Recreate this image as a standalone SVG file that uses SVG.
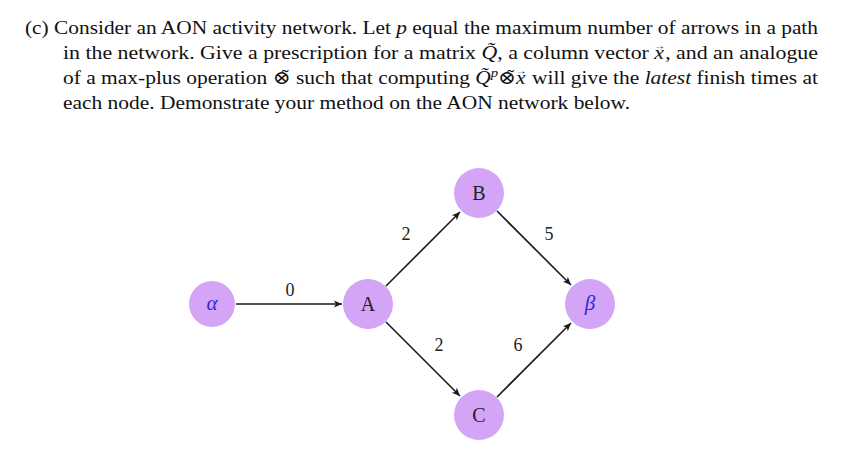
<svg xmlns="http://www.w3.org/2000/svg" width="866" height="458" viewBox="0 0 866 458">
<style>
.t{font-family:"Liberation Serif","DejaVu Serif",serif;font-size:19px;fill:#111}
.n{fill:#d4a5f7}
.nl{font-family:"Liberation Serif",serif;font-size:20px;fill:#222;text-anchor:middle}
.g{font-family:"Liberation Serif",serif;font-style:italic;font-size:21px;fill:#2a2ad0;text-anchor:middle}
.el{font-family:"Liberation Serif",serif;font-size:18px;fill:#222;text-anchor:middle}
.e{stroke:#1a1a1a;stroke-width:1.6;fill:none;marker-end:url(#ah)}
</style>
<defs>
<marker id="ah" markerWidth="10" markerHeight="10" refX="9" refY="5" orient="auto" markerUnits="userSpaceOnUse">
<path d="M1,1.5 L9,5 L1,8.5 L3,5 Z" fill="#1a1a1a"/>
</marker>
</defs>
<rect width="866" height="458" fill="#fff"/>
<g id="text">
<text class="t" x="25" y="34" textLength="793" lengthAdjust="spacingAndGlyphs">(c) Consider an AON activity network. Let <tspan font-style="italic">p</tspan> equal the maximum number of arrows in a path</text>
<text class="t" x="63" y="59" textLength="755" lengthAdjust="spacingAndGlyphs">in the network. Give a prescription for a matrix <tspan font-style="italic">Q̃</tspan>, a column vector <tspan font-style="italic">x</tspan><tspan font-size="10" dx="-9" dy="-10">→</tspan><tspan dy="10">, and an analogue</tspan></text>
<text class="t" x="63" y="84" textLength="755" lengthAdjust="spacingAndGlyphs">of a max-plus operation ⊗̃ such that computing <tspan font-style="italic">Q̃</tspan><tspan font-style="italic" font-size="13" dy="-7">p</tspan><tspan dy="7">⊗̃</tspan><tspan font-style="italic">x</tspan><tspan font-size="10" dx="-9" dy="-10">→</tspan><tspan dy="10"> will give the </tspan><tspan font-style="italic">latest</tspan> finish times at</text>
<text class="t" x="63" y="109" textLength="567" lengthAdjust="spacingAndGlyphs">each node. Demonstrate your method on the AON network below.</text>
</g>
<g id="connectors">
<line class="e" x1="236" y1="304" x2="342" y2="304"/>
<line class="e" x1="386" y1="286" x2="460" y2="212"/>
<line class="e" x1="497" y1="211" x2="571" y2="285"/>
<line class="e" x1="386" y1="322" x2="460" y2="396"/>
<line class="e" x1="497" y1="397" x2="571" y2="323"/>
<text class="el" x="290" y="296">0</text>
<text class="el" x="406" y="240">2</text>
<text class="el" x="549" y="240">5</text>
<text class="el" x="439" y="351">2</text>
<text class="el" x="518" y="351">6</text>
</g>
<g id="node-alpha"><circle class="n" cx="212" cy="304" r="23"/><text class="g" x="212" y="310">α</text></g>
<g id="node-A"><circle class="n" cx="368" cy="304" r="25"/><text class="nl" x="368" y="311">A</text></g>
<g id="node-B"><circle class="n" cx="479" cy="193" r="25"/><text class="nl" x="479" y="200">B</text></g>
<g id="node-beta"><circle class="n" cx="590" cy="304" r="25"/><text class="g" x="590" y="310">β</text></g>
<g id="node-C"><circle class="n" cx="479" cy="415" r="25"/><text class="nl" x="479" y="422">C</text></g>
</svg>
